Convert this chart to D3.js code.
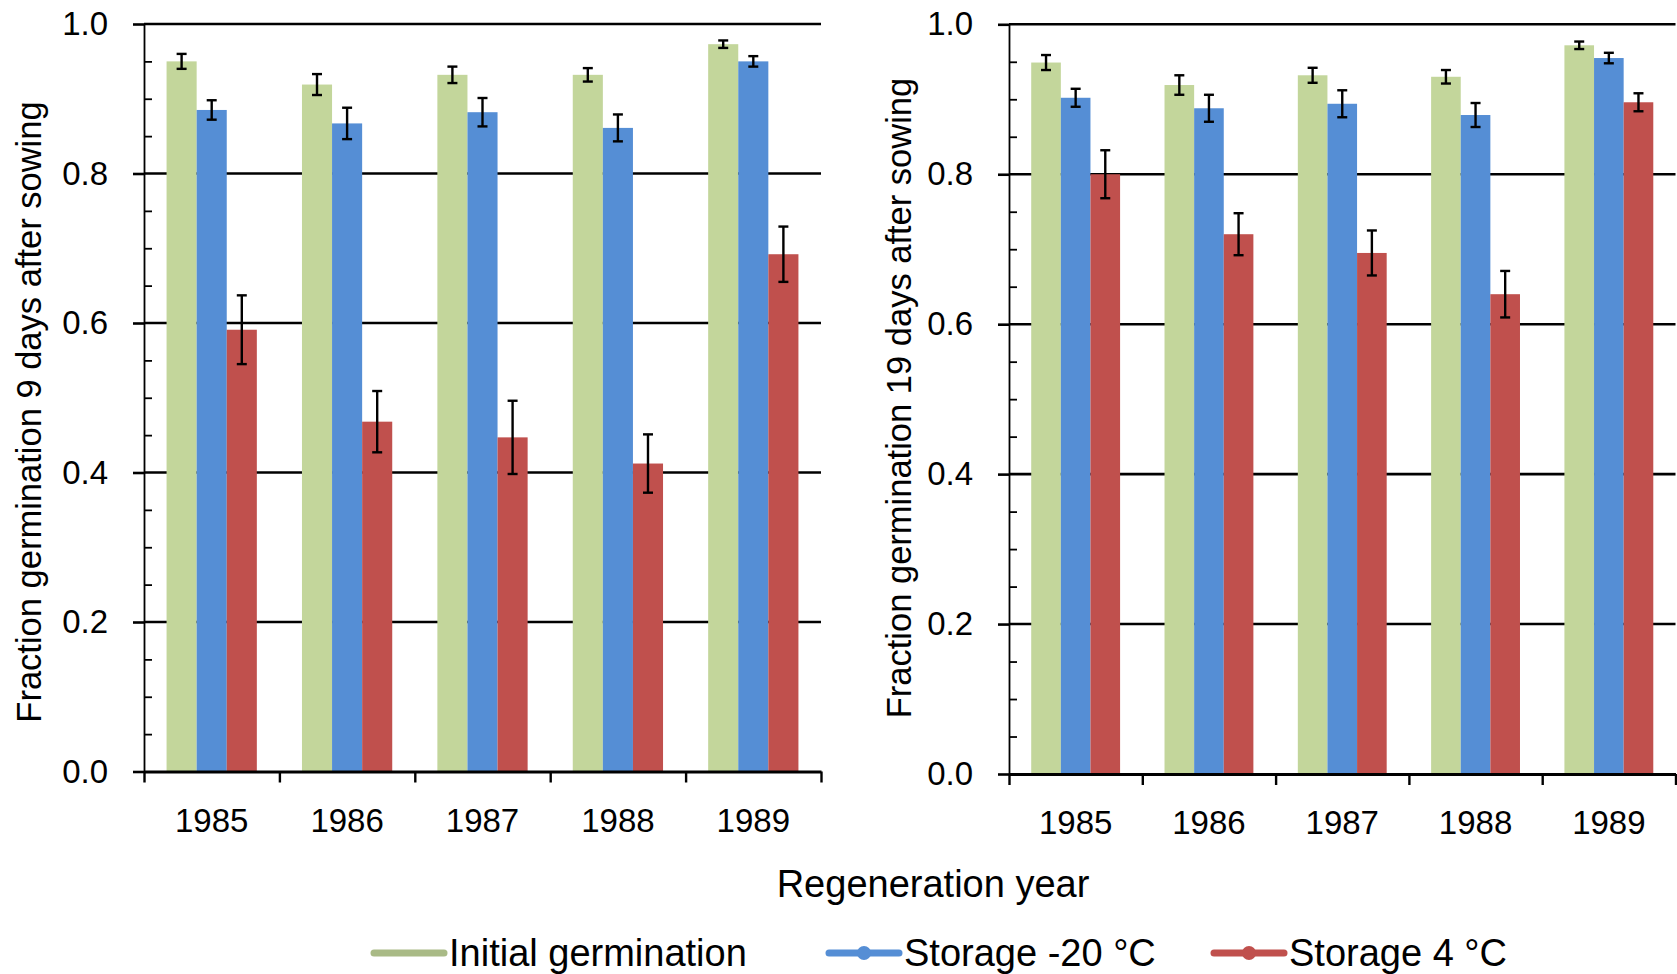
<!DOCTYPE html>
<html>
<head>
<meta charset="utf-8">
<script src="https://cdn.jsdelivr.net/npm/d3@7"></script>
<style>
  html, body { margin: 0; padding: 0; background: #fff; }
  svg { display: block; font-family: "Liberation Sans", Arial, sans-serif; }
</style>
</head>
<body>
<div id="chart"></div>
<script>
// regeneration years (categories)
const years = ["1985", "1986", "1987", "1988", "1989"];
const seriesNames = ["Initial germination", "Storage -20 °C", "Storage 4 °C"];
const seriesColors = ["#C3D69B", "#558ED5", "#C0504D"];

// left panel: 9 days after sowing
const initial9 = [0.950, 0.919, 0.932, 0.932, 0.973];
const initial9Err = [0.010, 0.014, 0.011, 0.009, 0.005];
const minus20_9 = [0.885, 0.867, 0.882, 0.861, 0.950];
const minus20_9Err = [0.013, 0.021, 0.019, 0.018, 0.007];
const plus4_9 = [0.591, 0.468, 0.447, 0.412, 0.692];
const plus4_9Err = [0.046, 0.041, 0.049, 0.039, 0.037];

// right panel: 19 days after sowing
const initial19 = [0.949, 0.919, 0.932, 0.930, 0.972];
const initial19Err = [0.010, 0.013, 0.010, 0.009, 0.005];
const minus20_19 = [0.902, 0.888, 0.894, 0.879, 0.955];
const minus20_19Err = [0.012, 0.018, 0.018, 0.016, 0.007];
const plus4_19 = [0.800, 0.720, 0.695, 0.640, 0.896];
const plus4_19Err = [0.032, 0.028, 0.030, 0.031, 0.012];

const yTicks = [0, 0.2, 0.4, 0.6, 0.8, 1.0];
const yMinorTicks = [0.05, 0.1, 0.15, 0.25, 0.3, 0.35, 0.45, 0.5, 0.55, 0.65, 0.7, 0.75, 0.85, 0.9, 0.95];

const W = 1677, H = 974;
const svg = d3.select("#chart").append("svg")
  .attr("width", W)
  .attr("height", H);

function drawPanel(cfg) {
  const g = svg.append("g");
  const y = d3.scaleLinear().domain([0, 1]).range([cfg.y0, cfg.y1]);
  const x = d3.scaleBand().domain(years).range([cfg.x0, cfg.x1])
    .paddingInner(1.5 / 4.5).paddingOuter(0.75 / 4.5);
  const xs = d3.scaleBand().domain(d3.range(3)).range([0, x.bandwidth()]);
  const edge = d3.scaleLinear().domain([0, years.length]).range([cfg.x0, cfg.x1]);

  // gridlines
  g.append("g").selectAll("line")
    .data(yTicks.filter(d => d > 0))
    .enter().append("line")
    .attr("x1", cfg.x0).attr("x2", cfg.x1)
    .attr("y1", d => y(d)).attr("y2", d => y(d))
    .attr("stroke", "#000").attr("stroke-width", 2.6);

  // bars
  const rows = [];
  years.forEach((yr, i) => {
    cfg.series.forEach((s, k) => {
      rows.push({ year: yr, k: k, v: s.values[i], e: s.err[i] });
    });
  });

  g.append("g").selectAll("rect")
    .data(rows)
    .enter().append("rect")
    .attr("x", d => x(d.year) + xs(d.k))
    .attr("width", xs.bandwidth())
    .attr("y", d => y(d.v))
    .attr("height", d => y(0) - y(d.v))
    .attr("fill", d => seriesColors[d.k]);

  // error bars
  const eb = g.append("g").attr("stroke", "#000").attr("stroke-width", 2.4);
  const cx = d => x(d.year) + xs(d.k) + xs.bandwidth() / 2;
  eb.selectAll(".v").data(rows).enter().append("line")
    .attr("x1", cx).attr("x2", cx)
    .attr("y1", d => y(d.v + d.e)).attr("y2", d => y(d.v - d.e));
  eb.selectAll(".t").data(rows).enter().append("line")
    .attr("x1", d => cx(d) - 5).attr("x2", d => cx(d) + 5)
    .attr("y1", d => y(d.v + d.e)).attr("y2", d => y(d.v + d.e));
  eb.selectAll(".b").data(rows).enter().append("line")
    .attr("x1", d => cx(d) - 5).attr("x2", d => cx(d) + 5)
    .attr("y1", d => y(d.v - d.e)).attr("y2", d => y(d.v - d.e));

  // y axis
  const yAxis = g.append("g")
    .attr("transform", `translate(${cfg.x0},0)`)
    .call(d3.axisLeft(y).tickValues(yTicks).tickFormat(d3.format(".1f"))
      .tickSizeInner(11).tickSizeOuter(0).tickPadding(25));
  yAxis.select(".domain").attr("stroke-width", 1.8);
  yAxis.selectAll(".tick line").attr("stroke-width", 2.6);
  yAxis.selectAll("text").style("font-size", "33px").attr("fill", "#000");

  // minor ticks inside
  g.append("g")
    .attr("transform", `translate(${cfg.x0},0)`)
    .call(d3.axisRight(y).tickValues(yMinorTicks).tickFormat("").tickSizeInner(8).tickSizeOuter(0))
    .call(a => a.select(".domain").remove())
    .selectAll("line").attr("stroke-width", 1.8);

  // x axis: baseline with ticks between categories
  const xAxis = g.append("g")
    .attr("transform", `translate(0,${y(0)})`)
    .call(d3.axisBottom(edge).tickValues(d3.range(years.length + 1)).tickFormat("")
      .tickSizeInner(11).tickSizeOuter(0));
  xAxis.select(".domain").attr("stroke-width", 2.8);
  xAxis.selectAll(".tick line").attr("stroke-width", 2.4);

  // year labels
  g.append("g")
    .attr("transform", `translate(0,${y(0)})`)
    .call(d3.axisBottom(x).tickSize(0).tickPadding(37))
    .call(a => a.select(".domain").remove())
    .selectAll("text").style("font-size", "33px").attr("fill", "#000");

  // y title
  svg.append("text")
    .attr("transform", `translate(${cfg.titleX},${cfg.titleY}) rotate(-90)`)
    .attr("text-anchor", "middle")
    .style("font-size", "34.5px")
    .attr("fill", "#000")
    .text(cfg.title);
}

drawPanel({
  x0: 144, x1: 821, y0: 771.5, y1: 24,
  titleX: 41, titleY: 412,
  title: "Fraction germination 9 days after sowing",
  series: [
    { values: initial9, err: initial9Err },
    { values: minus20_9, err: minus20_9Err },
    { values: plus4_9, err: plus4_9Err }
  ]
});

drawPanel({
  x0: 1009, x1: 1675.5, y0: 774, y1: 24.3,
  titleX: 911, titleY: 398,
  title: "Fraction germination 19 days after sowing",
  series: [
    { values: initial19, err: initial19Err },
    { values: minus20_19, err: minus20_19Err },
    { values: plus4_19, err: plus4_19Err }
  ]
});

// x title
svg.append("text")
  .attr("x", 933).attr("y", 897)
  .attr("text-anchor", "middle")
  .style("font-size", "38px")
  .attr("fill", "#000")
  .text("Regeneration year");

// legend
const legendX = [374, 829, 1214];
const legend = svg.append("g");
seriesNames.forEach((name, i) => {
  const lg = legend.append("g").attr("transform", `translate(${legendX[i]},953)`);
  lg.append("line")
    .attr("x1", 0).attr("x2", 70)
    .attr("stroke", d3.color(seriesColors[i]).darker(i === 0 ? 0.4 : 0).formatHex())
    .attr("stroke-width", 7)
    .attr("stroke-linecap", "round");
  if (i > 0) {
    lg.append("circle").attr("cx", 35).attr("r", 7).attr("fill", seriesColors[i]);
  }
  lg.append("text")
    .attr("x", 75).attr("y", 13)
    .style("font-size", "38px")
    .attr("fill", "#000")
    .text(name);
});
</script>
</body>
</html>
